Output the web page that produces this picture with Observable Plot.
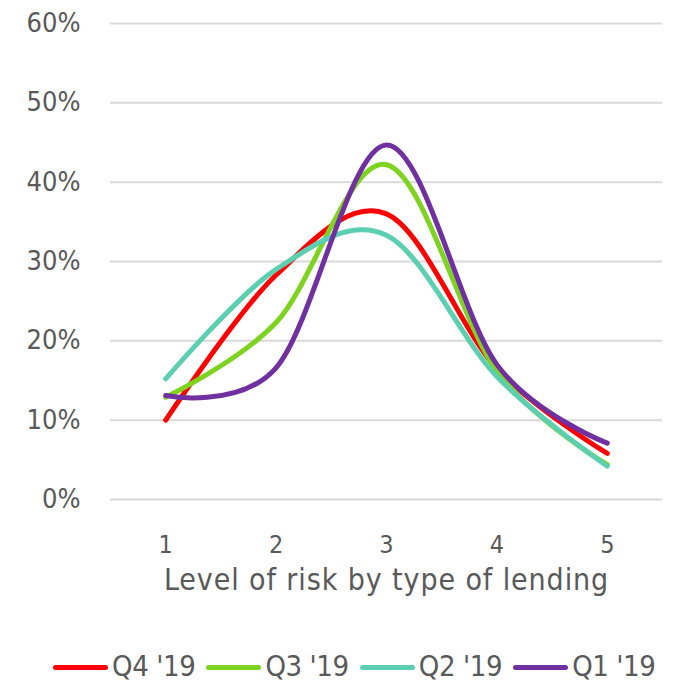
<!DOCTYPE html>
<html>
<head>
<meta charset="utf-8">
<script src="https://cdn.jsdelivr.net/npm/d3@7"></script>
<script src="https://cdn.jsdelivr.net/npm/@observablehq/plot@0.6"></script>
<style>
  html, body { margin: 0; padding: 0; background: #fff; }
  body { width: 684px; height: 683px; overflow: hidden; font-family: "DejaVu Sans Condensed", "DejaVu Sans", sans-serif; font-stretch: condensed; }
  #legend { display: flex; align-items: center; margin-left: 53px; margin-top: 31px; height: 30px; color: #595959; font-size: 29px; letter-spacing: -0.4px; }
  .item { display: flex; align-items: center; margin-right: 11px; }
  .swatch { width: 55px; height: 5px; border-radius: 3px; margin-right: 4px; margin-top: 3px; }
</style>
</head>
<body>
<div id="chart"></div>
<div id="legend"></div>
<script>
const categories = [1, 2, 3, 4, 5];
const seriesNames = ["Q4 '19", "Q3 '19", "Q2 '19", "Q1 '19"];
const q4_19 = [10.0, 28.3, 36.0, 16.5, 5.8];
const q3_19 = [12.9, 22.3, 42.2, 16.2, 4.4];
const q2_19 = [15.2, 29.0, 33.3, 15.5, 4.2];
const q1_19 = [13.1, 16.6, 44.7, 17.0, 7.1];
const yTicks = [0, 10, 20, 30, 40, 50, 60];
const xLabel = "Level of risk by type of lending";
const colors = ["#ff0000", "#7ed321", "#5ccfb1", "#7030a0"];

const seriesValues = [q4_19, q3_19, q2_19, q1_19];
const data = seriesNames.flatMap((s, i) => categories.map((c, j) => ({series: s, x: c, y: seriesValues[i][j]})));

const font = '"DejaVu Sans Condensed", "DejaVu Sans", sans-serif';
const chart = Plot.plot({
  width: 684,
  height: 620,
  marginLeft: 110,
  marginRight: 22,
  marginTop: 23,
  marginBottom: 121,
  style: {fontFamily: font, fontSize: "25px", color: "#595959", background: "#fff", fontStretch: "condensed"},
  x: {domain: [0.5, 5.5]},
  y: {domain: [0, 60]},
  color: {domain: seriesNames, range: colors},
  marks: [
    Plot.gridY(yTicks, {stroke: "#d9d9d9", strokeOpacity: 1, strokeWidth: 2}),
    Plot.axisY(yTicks, {tickSize: 0, tickPadding: 30, tickFormat: d => d + "%", label: null, fontSize: 27}),
    Plot.axisX(categories, {tickSize: 0, tickPadding: 36, tickFormat: d => String(d), label: xLabel, labelAnchor: "center", labelArrow: "none", labelOffset: 90, fontSize: 25}),
    Plot.line(data, {x: "x", y: "y", z: "series", stroke: "series", strokeWidth: 5, curve: "cardinal", strokeLinecap: "round", strokeLinejoin: "round"})
  ]
});
document.getElementById("chart").appendChild(chart);
chart.querySelectorAll('[aria-label="x-axis tick label"] text').forEach(t => {
  t.setAttribute("font-size", "25");
  t.style.fontSize = "25px";
});
chart.querySelectorAll('[aria-label="y-axis tick label"] text').forEach(t => {
  t.setAttribute("font-size", "27");
  t.style.fontSize = "27px";
});
chart.querySelectorAll('[aria-label="x-axis label"] text').forEach(t => {
  t.setAttribute("font-size", "30");
  t.style.fontSize = "30px";
  t.style.letterSpacing = "0.9px";
});

const legend = document.getElementById("legend");
seriesNames.forEach((s, i) => {
  const item = document.createElement("div");
  item.className = "item";
  const sw = document.createElement("div");
  sw.className = "swatch";
  sw.style.background = colors[i];
  const t = document.createElement("span");
  t.textContent = s;
  item.appendChild(sw);
  item.appendChild(t);
  legend.appendChild(item);
});
</script>
</body>
</html>
